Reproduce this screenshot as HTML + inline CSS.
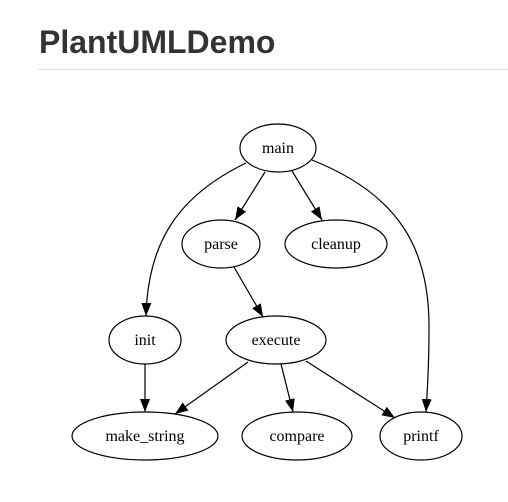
<!DOCTYPE html>
<html><head><style>
html,body{margin:0;padding:0;background:#fff;width:508px;height:502px;overflow:hidden}
h1{position:absolute;left:39px;top:24px;margin:0;font:bold 32px "Liberation Sans",sans-serif;color:#333;letter-spacing:0}
.hr{position:absolute;left:38px;top:69px;width:470px;height:1px;background:#ddd}
svg{position:absolute;left:0;top:0}
text{font-family:"Liberation Serif",serif;font-size:16px;text-anchor:middle}
</style></head><body>
<h1>PlantUMLDemo</h1>
<div class="hr"></div>
<svg width="508" height="502">
<defs><marker id="a" markerWidth="13" markerHeight="10" refX="13" refY="5" orient="auto" markerUnits="userSpaceOnUse"><path d="M0,0L13,5L0,10z" fill="#000"/></marker></defs>
<g fill="none" stroke="#000" stroke-width="1.2">
<ellipse cx="278" cy="148" rx="38" ry="24"/>
<ellipse cx="221" cy="244" rx="39" ry="24"/>
<ellipse cx="336" cy="244" rx="51" ry="24"/>
<ellipse cx="145" cy="340" rx="36" ry="24"/>
<ellipse cx="276" cy="340" rx="50" ry="24"/>
<ellipse cx="145" cy="436" rx="73" ry="24"/>
<ellipse cx="297" cy="436" rx="55" ry="24"/>
<ellipse cx="421" cy="436" rx="41" ry="24"/>
<path d="M265,172L235,220" marker-end="url(#a)"/>
<path d="M292,171L322,220" marker-end="url(#a)"/>
<path d="M246,163C180,195 148,240 146,316" marker-end="url(#a)"/>
<path d="M312,160C400,195 430,250 429,330C429,370 427,395 426,412" marker-end="url(#a)"/>
<path d="M234,267L263,317" marker-end="url(#a)"/>
<path d="M145,364L145,412" marker-end="url(#a)"/>
<path d="M248,362L175,414" marker-end="url(#a)"/>
<path d="M281,364L293,412" marker-end="url(#a)"/>
<path d="M306,361L395,418" marker-end="url(#a)"/>
</g>
<text x="278" y="153">main</text>
<text x="221" y="249">parse</text>
<text x="336" y="249">cleanup</text>
<text x="145" y="345">init</text>
<text x="276" y="345">execute</text>
<text x="145" y="441">make_string</text>
<text x="297" y="441">compare</text>
<text x="421" y="441">printf</text>
</svg>
</body></html>
